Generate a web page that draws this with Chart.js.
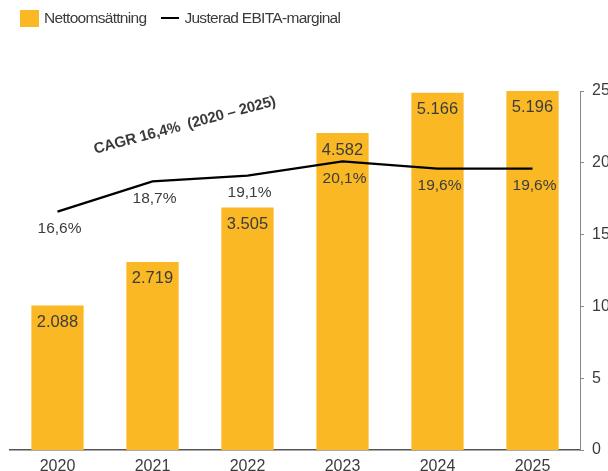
<!DOCTYPE html>
<html>
<head>
<meta charset="utf-8">
<script src="https://cdn.jsdelivr.net/npm/chart.js@4"></script>
<style>
  body { margin: 0; background: #fff; }
  #wrap { position: relative; width: 608px; height: 471px; }
  #legend { position: absolute; left: 20px; top: 9px; font-family: "Liberation Sans", Arial, sans-serif;
            font-size: 15.5px; letter-spacing: -0.7px; color: #3c3c3c; display: flex; align-items: center; }
  .box { width: 19px; height: 17px; background: #F9B824; margin-right: 5px; }
  .ln { width: 18px; height: 2.5px; background: #000; margin: 0 5px 0 15px; }
</style>
</head>
<body>
<div id="wrap">
  <canvas id="chart"></canvas>
  <div id="legend">
    <span class="box"></span><span>Nettoomsättning</span>
    <span class="ln"></span><span>Justerad EBITA-marginal</span>
  </div>
</div>
<script>
// Data
const years = ['2020', '2021', '2022', '2023', '2024', '2025'];
const nettoomsattning = [2088, 2719, 3505, 4582, 5166, 5196];
const ebitaMarginal = [16.6, 18.7, 19.1, 20.1, 19.6, 19.6];
const marginTicks = [0, 5, 10, 15, 20, 25];
const cagrText = 'CAGR 16,4%  (2020 – 2025)';

const textColor = '#3c3c3c';
const fontFam = '"Liberation Sans", Arial, sans-serif';

// Formatering: tusental med punkt, decimal med komma
function fmtThousand(n) {
    return String(n).replace(/\B(?=(\d{3})+(?!\d))/g, '.');
}
function fmtPct(v) {
    return v.toFixed(1).replace('.', ',') + '%';
}

// Plugin som ritar värdeetiketter och CAGR-texten
const valueLabels = {
    id: 'valueLabels',
    afterDatasetsDraw(chart) {
        const ctx = chart.ctx;
        ctx.save();
        ctx.fillStyle = textColor;
        ctx.textAlign = 'center';
        ctx.textBaseline = 'middle';
        ctx.font = '16.5px ' + fontFam;

        // staplar
        const barMeta = chart.getDatasetMeta(1);
        barMeta.data.forEach((bar, i) => {
            ctx.fillText(fmtThousand(nettoomsattning[i]), bar.x, bar.y + 17);
        });

        // linje
        const lineMeta = chart.getDatasetMeta(0);
        ctx.font = '15.5px ' + fontFam;
        lineMeta.data.forEach((pt, i) => {
            ctx.fillText(fmtPct(ebitaMarginal[i]), pt.x + 2, pt.y + 17);
        });

        // CAGR
        const x = chart.scales.x.getPixelForValue(1.34);
        const y = chart.scales.y.getPixelForValue(22.6);
        ctx.translate(x, y);
        ctx.rotate(-15 * Math.PI / 180);
        ctx.font = 'bold 15px ' + fontFam;
        ctx.letterSpacing = '-0.2px';
        ctx.fillStyle = '#3a3a3a';
        ctx.fillText(cagrText, 0, 0);
        ctx.restore();
    }
};

const ctx = document.getElementById('chart').getContext('2d');

const myChart = new Chart(ctx, {
    data: {
        labels: years,
        datasets: [
            {
                type: 'line',
                label: 'Justerad EBITA-marginal',
                data: ebitaMarginal,
                yAxisID: 'y',
                borderColor: '#000',
                borderWidth: 2.3,
                pointRadius: 0,
                tension: 0,
                order: 0
            },
            {
                type: 'bar',
                label: 'Nettoomsättning',
                data: nettoomsattning,
                yAxisID: 'yBar',
                backgroundColor: '#F9B824',
                categoryPercentage: 1,
                barPercentage: 0.55,
                order: 1
            }
        ]
    },
    options: {
        responsive: true,
        maintainAspectRatio: false,
        animation: false,
        layout: { padding: { top: 91, left: 10, right: 0, bottom: 0 } },
        plugins: {
            legend: { display: false },
            tooltip: { enabled: false }
        },
        scales: {
            x: {
                grid: { display: false, drawTicks: false },
                border: { color: '#555', width: 1.5 },
                ticks: { color: textColor, font: { family: fontFam, size: 16 }, padding: 7 },
                afterFit: (scale) => { scale.height = 21; }
            },
            yBar: {
                display: false,
                min: 0,
                max: 5190
            },
            y: {
                position: 'right',
                min: marginTicks[0],
                max: marginTicks[marginTicks.length - 1],
                grid: { drawOnChartArea: false, drawTicks: true, tickLength: 4, color: '#8a8a8a' },
                border: { color: '#8a8a8a', width: 1 },
                afterBuildTicks: (scale) => { scale.ticks = marginTicks.map(v => ({ value: v })); },
                ticks: { color: textColor, font: { family: fontFam, size: 16 }, padding: 8 },
                afterFit: (scale) => { scale.width = 28; }
            }
        }
    },
    plugins: [valueLabels]
});
</script>
</body>
</html>
